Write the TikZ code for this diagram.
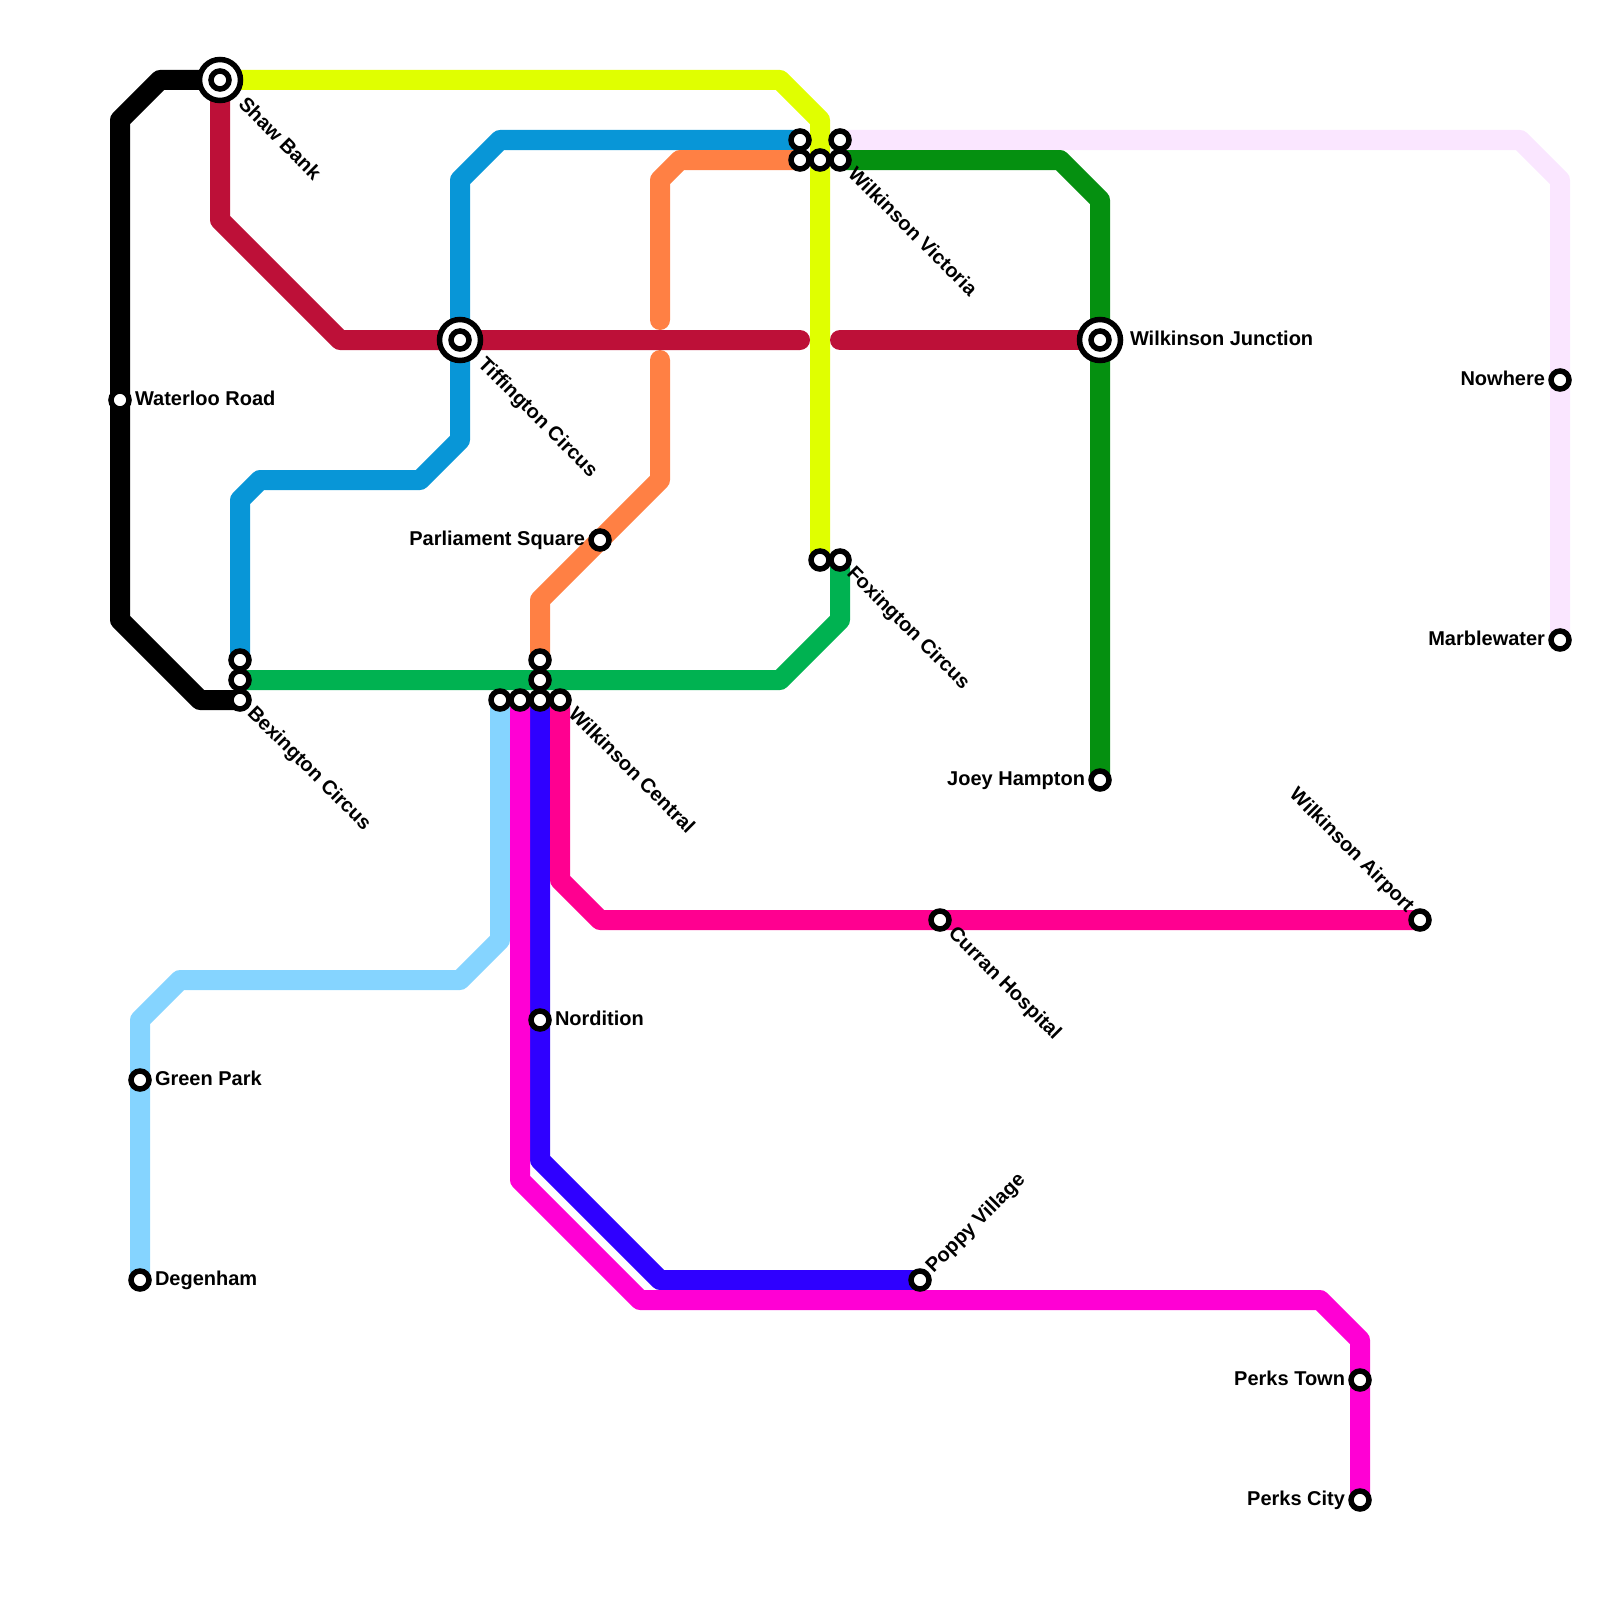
\documentclass[tikz,border=0pt]{standalone}
\usepackage{fontspec}
\setmainfont{Liberation Sans}
\usetikzlibrary{backgrounds}
\definecolor{cBlack}{HTML}{000000}
\definecolor{cYellow}{HTML}{E0FF00}
\definecolor{cCrimson}{HTML}{BD1038}
\definecolor{cBlue}{HTML}{0896D7}
\definecolor{cOrange}{HTML}{FF8044}
\definecolor{cPale}{HTML}{FAE6FF}
\definecolor{cDark}{HTML}{059010}
\definecolor{cGreen}{HTML}{00B251}
\definecolor{cSky}{HTML}{85D4FF}
\definecolor{cMag}{HTML}{FF00D4}
\definecolor{cViolet}{HTML}{2F00FF}
\definecolor{cHot}{HTML}{FF0090}
\tikzset{
  x=1pt,y=-1pt,
  metro/.style={line width=20pt,line join=round,line cap=round},
  stn/.style={circle,draw=black,fill=white,line width=5.5pt,minimum size=18pt,inner sep=0pt,outer sep=0pt},
  ring/.style={circle,draw=black,fill=white,line width=5.5pt,minimum size=41pt,inner sep=0pt,outer sep=0pt},
  lab/.style={inner sep=0pt,outer sep=0pt,font=\fontsize{20}{20}\selectfont\bfseries},
  lr/.style={lab,anchor=base west},
  ll/.style={lab,anchor=base east},
  ldown/.style={lab,anchor=base west,rotate=-45},
  lupl/.style={lab,anchor=base east,rotate=-45},
  lupr/.style={lab,anchor=base west,rotate=45},
}
\begin{document}
\begin{tikzpicture}
\useasboundingbox (0,0) rectangle (1600,1600);
% interchange rings
\node[ring] (shawR) at (220,80) {};
\node[ring] (tiffR) at (460,340) {};
\node[ring] (juncR) at (1100,340) {};
% stations
\node[stn] (shaw) at (220,80) {};
\node[stn] (tiff) at (460,340) {};
\node[stn] (junc) at (1100,340) {};
\node[stn] (water) at (120,400) {};
\node[stn] (vicA) at (800,140) {};
\node[stn] (vicB) at (800,160) {};
\node[stn] (vicC) at (820,160) {};
\node[stn] (vicD) at (840,140) {};
\node[stn] (vicE) at (840,160) {};
\node[stn] (foxA) at (820,560) {};
\node[stn] (foxB) at (840,560) {};
\node[stn] (bexA) at (240,660) {};
\node[stn] (bexB) at (240,680) {};
\node[stn] (bexC) at (240,700) {};
\node[stn] (cenA) at (540,660) {};
\node[stn] (cenB) at (540,680) {};
\node[stn] (cenC) at (500,700) {};
\node[stn] (cenD) at (520,700) {};
\node[stn] (cenE) at (540,700) {};
\node[stn] (cenF) at (560,700) {};
\node[stn] (parl) at (600,540) {};
\node[stn] (nowh) at (1560,380) {};
\node[stn] (marb) at (1560,640) {};
\node[stn] (joey) at (1100,780) {};
\node[stn] (airp) at (1420,920) {};
\node[stn] (curr) at (940,920) {};
\node[stn] (nord) at (540,1020) {};
\node[stn] (gree) at (140,1080) {};
\node[stn] (dege) at (140,1280) {};
\node[stn] (popp) at (920,1280) {};
\node[stn] (pertown) at (1360,1380) {};
\node[stn] (percity) at (1360,1500) {};
% free ends of the interrupted lines
\coordinate (redA) at (800,340);
\coordinate (redB) at (840,340);
\coordinate (oraA) at (660,320);
\coordinate (oraB) at (660,360);
% lines
\begin{pgfonlayer}{background}
\draw[metro,cPale] (vicD.center) -- (1520,140) -- (1560,180) -- (nowh.center) -- (marb.center);
\draw[metro,cBlack] (bexC.center) -- (200,700) -- (120,620) -- (water.center) -- (120,120) -- (160,80) -- (shaw.center);
\draw[metro,cDark] (vicE.center) -- (1060,160) -- (1100,200) -- (junc.center) -- (joey.center);
\draw[metro,cBlue] (vicA.center) -- (500,140) -- (460,180) -- (tiff.center) -- (460,440) -- (420,480) -- (260,480) -- (240,500) -- (bexA.center);
\draw[metro,cOrange] (vicB.center) -- (680,160) -- (660,180) -- (oraA);
\draw[metro,cOrange] (oraB) -- (660,480) -- (parl.center) -- (540,600) -- (cenA.center);
\draw[metro,cYellow] (shaw.center) -- (780,80) -- (820,120) -- (vicC.center) -- (foxA.center);
\draw[metro,cCrimson] (shaw.center) -- (220,220) -- (340,340) -- (tiff.center) -- (redA);
\draw[metro,cCrimson] (redB) -- (junc.center);
\draw[metro,cGreen] (bexB.center) -- (cenB.center) -- (780,680) -- (840,620) -- (foxB.center);
\draw[metro,cSky] (cenC.center) -- (500,940) -- (460,980) -- (180,980) -- (140,1020) -- (gree.center) -- (dege.center);
\draw[metro,cViolet] (cenE.center) -- (nord.center) -- (540,1160) -- (660,1280) -- (popp.center);
\draw[metro,cMag] (cenD.center) -- (520,1180) -- (640,1300) -- (1320,1300) -- (1360,1340) -- (pertown.center) -- (percity.center);
\draw[metro,cHot] (cenF.center) -- (560,880) -- (600,920) -- (curr.center) -- (airp.center);
\end{pgfonlayer}
% labels
\node[ldown] (tShaw) at (237.5,105.5) {Shaw Bank};
\node[ldown] (tTiff) at (477,365) {Tiffington Circus};
\node[lr] (tJunc) at (1130,345.5) {Wilkinson Junction};
\node[lr] (tWater) at (135,405.5) {Waterloo Road};
\node[ldown] (tVic) at (847,175) {Wilkinson Victoria};
\node[ldown] (tFox) at (846,574) {Foxington Circus};
\node[ldown] (tBex) at (246.5,714) {Bexington Circus};
\node[ldown] (tCen) at (567.5,715) {Wilkinson Central};
\node[ll] (tParl) at (585,545.5) {Parliament Square};
\node[ll] (tNowh) at (1545,385.5) {Nowhere};
\node[ll] (tMarb) at (1545,645.5) {Marblewater};
\node[ll] (tJoey) at (1085,785.5) {Joey Hampton};
\node[lupl] (tAirp) at (1406.4,913.6) {Wilkinson Airport};
\node[ldown] (tCurr) at (947.5,934.5) {Curran Hospital};
\node[lr] (tNord) at (555,1025.5) {Nordition};
\node[lr] (tGree) at (155,1085.5) {Green Park};
\node[lr] (tDege) at (155,1285.5) {Degenham};
\node[lupr] (tPopp) at (933.6,1273.6) {Poppy Village};
\node[ll] (tPerT) at (1345,1385.5) {Perks Town};
\node[ll] (tPerC) at (1345,1505.5) {Perks City};
\end{tikzpicture}
\end{document}
